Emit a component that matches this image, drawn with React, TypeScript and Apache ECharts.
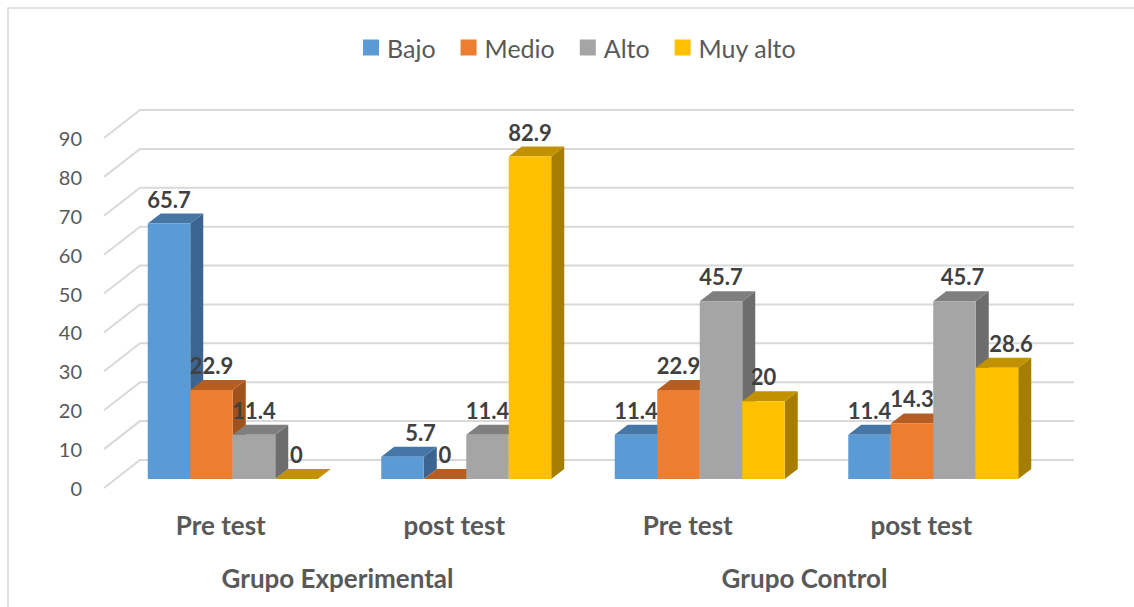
import React, { useEffect, useRef } from "react";
import * as echarts from "echarts";

const categories = ["Pre test", "post test", "Pre test", "post test"];
const groups = ["Grupo Experimental", "Grupo Control"];
const seriesNames = ["Bajo", "Medio", "Alto", "Muy alto"];
const bajo = [65.7, 5.7, 11.4, 11.4];
const medio = [22.9, 0, 22.9, 14.3];
const alto = [11.4, 11.4, 45.7, 45.7];
const muyAlto = [0, 82.9, 20, 28.6];
const yTicks = [0, 10, 20, 30, 40, 50, 60, 70, 80, 90];

// styling
const frontColors = ["#5B9BD5", "#ED7D31", "#A5A5A5", "#FFC000"];
const topColors = ["#4676A6", "#B65E22", "#7F7F7F", "#C29100"];
const sideColors = ["#3B6590", "#A0521C", "#6D6D6D", "#A67D00"];
const labelNudge: Record<string, number> = { "1-0": 18, "3-2": 8, "3-3": 14 };

const FONT = "Lato, 'Liberation Sans', sans-serif";
const FRONT_DX = 12;
const FRONT_DY = -9;
const DEPTH_DX = 13;
const DEPTH_DY = -10;
const WALL_DX = 36;
const WALL_DY = -28;
const BAR_RATIO = 0.182;

export default function App() {
  const ref = useRef<HTMLDivElement>(null);
  useEffect(() => {
    const chart = echarts.init(ref.current!, null, { renderer: "svg" });
    const allSeries = [bajo, medio, alto, muyAlto];

    const gridSeries: any = {
      type: "custom",
      silent: true,
      z: 1,
      data: yTicks.map((v) => [0, v]),
      encode: { x: 0, y: 1 },
      renderItem: (params: any, api: any) => {
        const cs = params.coordSys;
        const y = api.coord([0, api.value(1)])[1];
        const x0 = cs.x;
        const x1 = cs.x + cs.width;
        return {
          type: "polyline",
          shape: {
            points: [
              [x0, y],
              [x0 + WALL_DX, y + WALL_DY],
              [x1 + WALL_DX, y + WALL_DY],
            ],
          },
          style: { stroke: "#D9D9D9", lineWidth: 2, fill: "none" },
        };
      },
    };

    const barSeries = allSeries.map((vals, si) => ({
      type: "custom",
      name: seriesNames[si],
      z: 2 + si,
      itemStyle: { color: frontColors[si] },
      data: vals.map((v, ci) => [ci, v]),
      encode: { x: 0, y: 1 },
      renderItem: (params: any, api: any) => {
        const ci = api.value(0);
        const v = api.value(1);
        const base = api.coord([ci, 0]);
        const top = api.coord([ci, v]);
        const bandW = api.size([1, 0])[0];
        const bw = bandW * BAR_RATIO;
        const cx = base[0] + FRONT_DX + (si - 1.5) * bw;
        const xL = cx - bw / 2;
        const xR = cx + bw / 2;
        const y0 = base[1] + FRONT_DY;
        const yT = top[1] + FRONT_DY;
        const nudge = labelNudge[`${ci}-${si}`] || 0;
        return {
          type: "group",
          children: [
            {
              type: "polygon",
              shape: {
                points: [
                  [xR, yT],
                  [xR + DEPTH_DX, yT + DEPTH_DY],
                  [xR + DEPTH_DX, y0 + DEPTH_DY],
                  [xR, y0],
                ],
              },
              style: { fill: sideColors[si] },
            },
            {
              type: "polygon",
              shape: {
                points: [
                  [xL, yT],
                  [xR, yT],
                  [xR + DEPTH_DX, yT + DEPTH_DY],
                  [xL + DEPTH_DX, yT + DEPTH_DY],
                ],
              },
              style: { fill: topColors[si] },
            },
            {
              type: "rect",
              shape: { x: xL, y: yT, width: bw, height: y0 - yT },
              style: { fill: frontColors[si] },
            },
            {
              type: "text",
              z2: 10,
              style: {
                text: String(v),
                x: cx + nudge,
                y: yT - 24.5,
                align: "center",
                verticalAlign: "middle",
                fill: "#404040",
                fontSize: 22,
                fontWeight: "bold",
                fontFamily: FONT,
              },
            },
          ],
        };
      },
    }));

    chart.setOption({
      animation: false,
      backgroundColor: "#ffffff",
      color: frontColors,
      legend: {
        data: seriesNames,
        left: 363,
        top: 35,
        padding: 0,
        itemWidth: 16,
        itemHeight: 16,
        itemGap: 25,
        icon: "rect",
        textStyle: {
          fontSize: 25,
          color: "#595959",
          fontFamily: FONT,
          padding: [0, 0, 0, 3],
        },
      },
      grid: { left: 104, right: 96, top: 138, bottom: 119 },
      xAxis: [
        {
          type: "category",
          data: categories,
          axisLine: { show: false },
          axisTick: { show: false },
          splitLine: { show: false },
          axisLabel: {
            margin: 24,
            fontSize: 26,
            fontWeight: "bold",
            color: "#595959",
            fontFamily: FONT,
          },
        },
        {
          type: "category",
          data: groups,
          position: "bottom",
          offset: 53,
          axisLine: { show: false },
          axisTick: { show: false },
          splitLine: { show: false },
          axisLabel: {
            margin: 24,
            fontSize: 26,
            fontWeight: "bold",
            color: "#595959",
            fontFamily: FONT,
          },
        },
      ],
      yAxis: {
        type: "value",
        min: 0,
        max: 90,
        interval: 10,
        axisLine: { show: false },
        axisTick: { show: false },
        splitLine: { show: false },
        axisLabel: {
          margin: 22,
          fontSize: 20,
          color: "#595959",
          fontFamily: FONT,
        },
      },
      graphic: [
        {
          type: "rect",
          silent: true,
          shape: { x: 8, y: 8, width: 1200, height: 700 },
          style: { fill: "none", stroke: "#D9D9D9", lineWidth: 1.5 },
        },
      ],
      series: [gridSeries, ...barSeries],
    });
    return () => chart.dispose();
  }, []);
  return (
    <div
      ref={ref}
      style={{ position: "fixed", left: 0, top: 0, width: 1134, height: 607, background: "#fff" }}
    />
  );
}
